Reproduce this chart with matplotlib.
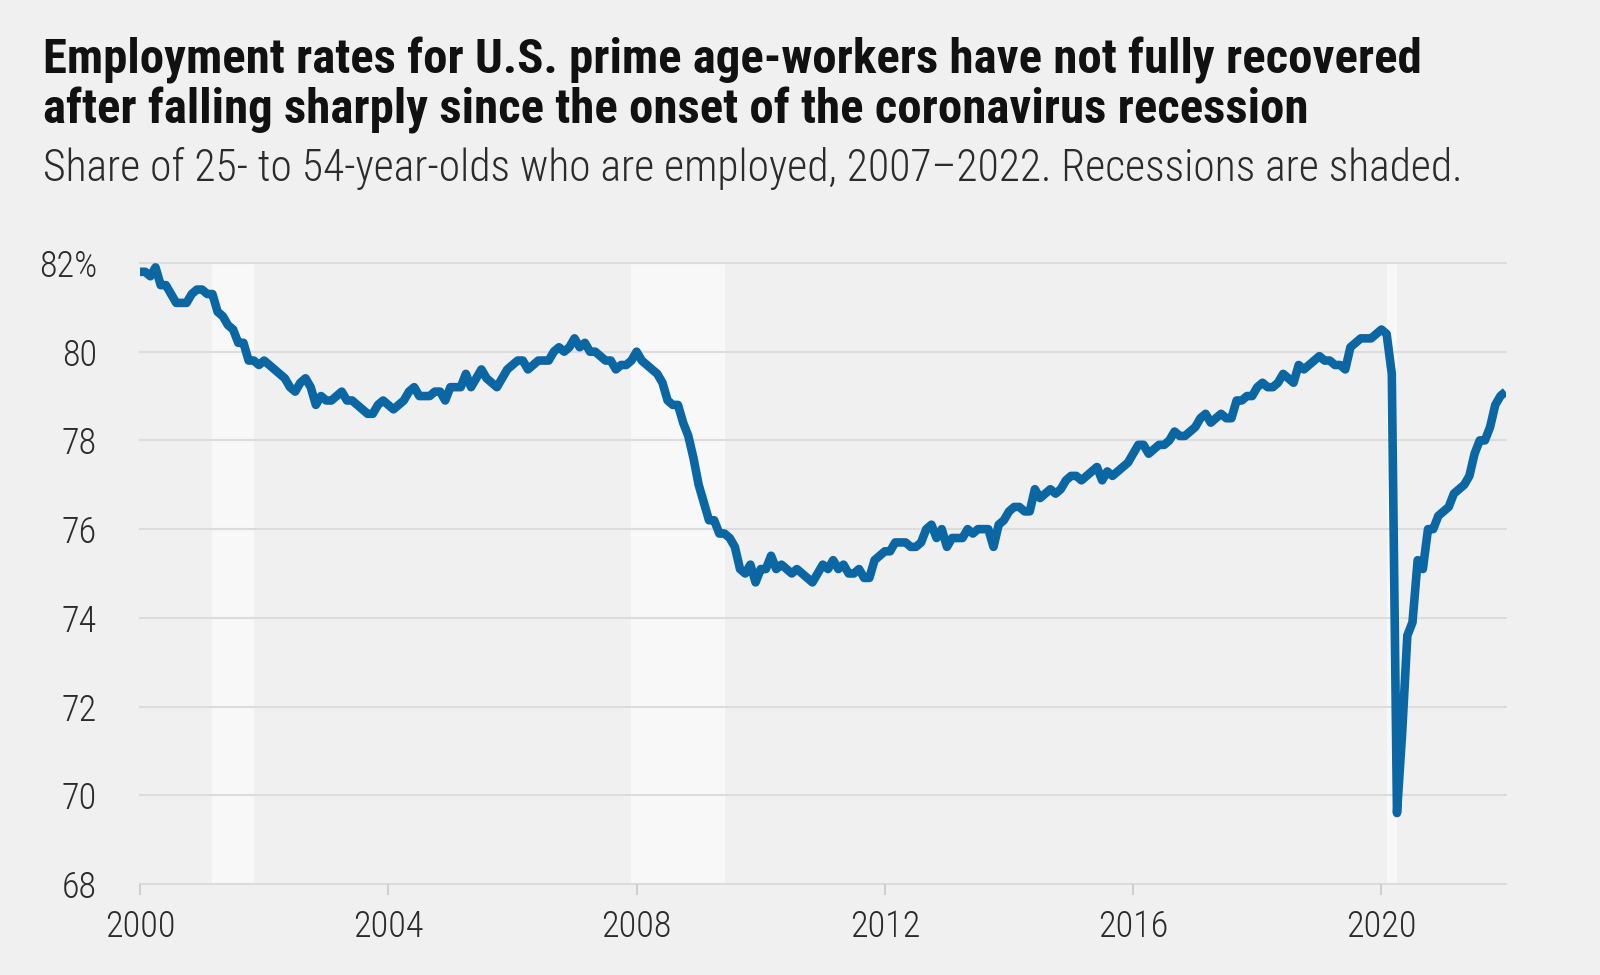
import numpy as np
import matplotlib
matplotlib.use("Agg")
import matplotlib.pyplot as plt
from matplotlib import font_manager

# ----------------------------
# Data: prime-age (25-54) employment-population ratio, monthly Jan 2000 - Jan 2022
# ----------------------------
start_year = 2000
epop = [
    # 2000
    81.8, 81.8, 81.7, 81.9, 81.5, 81.5, 81.3, 81.1, 81.1, 81.1, 81.3, 81.4,
    # 2001
    81.4, 81.3, 81.3, 80.9, 80.8, 80.6, 80.5, 80.2, 80.2, 79.8, 79.8, 79.7,
    # 2002
    79.8, 79.7, 79.6, 79.5, 79.4, 79.2, 79.1, 79.3, 79.4, 79.2, 78.8, 79.0,
    # 2003
    78.9, 78.9, 79.0, 79.1, 78.9, 78.9, 78.8, 78.7, 78.6, 78.6, 78.8, 78.9,
    # 2004
    78.8, 78.7, 78.8, 78.9, 79.1, 79.2, 79.0, 79.0, 79.0, 79.1, 79.1, 78.9,
    # 2005
    79.2, 79.2, 79.2, 79.5, 79.2, 79.4, 79.6, 79.4, 79.3, 79.2, 79.4, 79.6,
    # 2006
    79.7, 79.8, 79.8, 79.6, 79.7, 79.8, 79.8, 79.8, 80.0, 80.1, 80.0, 80.1,
    # 2007
    80.3, 80.1, 80.2, 80.0, 80.0, 79.9, 79.8, 79.8, 79.6, 79.7, 79.7, 79.8,
    # 2008
    80.0, 79.8, 79.7, 79.6, 79.5, 79.3, 78.9, 78.8, 78.8, 78.4, 78.1, 77.6,
    # 2009
    77.0, 76.6, 76.2, 76.2, 75.9, 75.9, 75.8, 75.6, 75.1, 75.0, 75.2, 74.8,
    # 2010
    75.1, 75.1, 75.4, 75.1, 75.2, 75.1, 75.0, 75.1, 75.0, 74.9, 74.8, 75.0,
    # 2011
    75.2, 75.1, 75.3, 75.1, 75.2, 75.0, 75.0, 75.1, 74.9, 74.9, 75.3, 75.4,
    # 2012
    75.5, 75.5, 75.7, 75.7, 75.7, 75.6, 75.6, 75.7, 76.0, 76.1, 75.8, 76.0,
    # 2013
    75.6, 75.8, 75.8, 75.8, 76.0, 75.9, 76.0, 76.0, 76.0, 75.6, 76.1, 76.2,
    # 2014
    76.4, 76.5, 76.5, 76.4, 76.4, 76.9, 76.7, 76.8, 76.9, 76.8, 76.9, 77.1,
    # 2015
    77.2, 77.2, 77.1, 77.2, 77.3, 77.4, 77.1, 77.3, 77.2, 77.3, 77.4, 77.5,
    # 2016
    77.7, 77.9, 77.9, 77.7, 77.8, 77.9, 77.9, 78.0, 78.2, 78.1, 78.1, 78.2,
    # 2017
    78.3, 78.5, 78.6, 78.4, 78.5, 78.6, 78.5, 78.5, 78.9, 78.9, 79.0, 79.0,
    # 2018
    79.2, 79.3, 79.2, 79.2, 79.3, 79.5, 79.4, 79.3, 79.7, 79.6, 79.7, 79.8,
    # 2019
    79.9, 79.8, 79.8, 79.7, 79.7, 79.6, 80.1, 80.2, 80.3, 80.3, 80.3, 80.4,
    # 2020
    80.5, 80.4, 79.5, 69.6, 71.4, 73.6, 73.9, 75.3, 75.1, 76.0, 76.0, 76.3,
    # 2021
    76.4, 76.5, 76.8, 76.9, 77.0, 77.2, 77.7, 78.0, 78.0, 78.3, 78.8, 79.0,
    # 2022
    79.1,
]

# Recessions (start, end) in fractional years
recessions = [(2001.167, 2001.833), (2007.917, 2009.417), (2020.083, 2020.25)]

y_ticks = [68, 70, 72, 74, 76, 78, 80, 82]
y_labels = ["68", "70", "72", "74", "76", "78", "80", "82%"]
x_ticks = [2000, 2004, 2008, 2012, 2016, 2020]

title_lines = [
    "Employment rates for U.S. prime age-workers have not fully recovered",
    "after falling sharply since the onset of the coronavirus recession",
]
subtitle = "Share of 25- to 54-year-olds who are employed, 2007\u20132022. Recessions are shaded."

months = np.arange(len(epop))
x = start_year + months / 12.0

# ----------------------------
# Fonts: prefer something condensed if available
# ----------------------------
available = {f.name for f in font_manager.fontManager.ttflist}
font = "Roboto"
for cand in ["Roboto Condensed", "DejaVu Sans Condensed", "Liberation Sans Narrow", "Roboto"]:
    if cand in available:
        font = cand
        break
plt.rcParams["font.family"] = [font, "DejaVu Sans"]

BG = "#f0f0f0"
GRID = "#dcdcdc"
LINE = "#0a67a3"
SHADE = "#f8f8f8"
TXT = "#2b2b2b"

fig = plt.figure(figsize=(16, 9.75), dpi=100, facecolor=BG)
ax = fig.add_axes([0.0875, 0.0933, 0.941 - 0.0875, 0.7303 - 0.0933])
ax.set_facecolor(BG)

for a, b in recessions:
    ax.axvspan(a, b, color=SHADE, lw=0, zorder=0)

for yv in y_ticks:
    ax.axhline(yv, color=GRID, lw=1.5, zorder=1, clip_on=False)

ax.plot(x, epop, color=LINE, lw=6.2, solid_joinstyle="round",
        solid_capstyle="butt", zorder=3)

ax.set_xlim(2000, 2022)
ax.set_ylim(68, 82)
for s in ax.spines.values():
    s.set_visible(False)

ax.set_yticks(y_ticks)
ax.set_yticklabels(y_labels)
ax.set_xticks(x_ticks)
ax.set_xticklabels([str(t) for t in x_ticks])
ax.tick_params(axis="y", length=0, pad=31, labelsize=26, labelcolor=TXT)
ax.tick_params(axis="x", length=8, width=1.5, color="#cfcfcf", pad=10,
               labelsize=26, labelcolor=TXT)
for lab in ax.get_xticklabels() + ax.get_yticklabels():
    lab.set_fontweight("light")

# ----------------------------
# Title and subtitle, scaled to the widths seen in the reference
# ----------------------------
fig.canvas.draw()
renderer = fig.canvas.get_renderer()


def fit_text(xpx, ypx, s, width_px, size, **kw):
    t = fig.text(xpx / 1600, 1 - ypx / 975, s, fontsize=size, va="baseline",
                 ha="left", **kw)
    w = t.get_window_extent(renderer).width
    t.set_fontsize(size * width_px / w)
    return t


t1 = fit_text(43, 74, title_lines[0], 1380, 30, fontweight="bold", color="#111111")
t2 = fit_text(43, 124, title_lines[1], 1270, 30, fontweight="bold", color="#111111")
t2.set_fontsize(t1.get_fontsize())
fit_text(43, 181, subtitle, 1424, 26, fontweight="light", color=TXT)

fig.savefig("out.png", dpi=100, facecolor=BG)
